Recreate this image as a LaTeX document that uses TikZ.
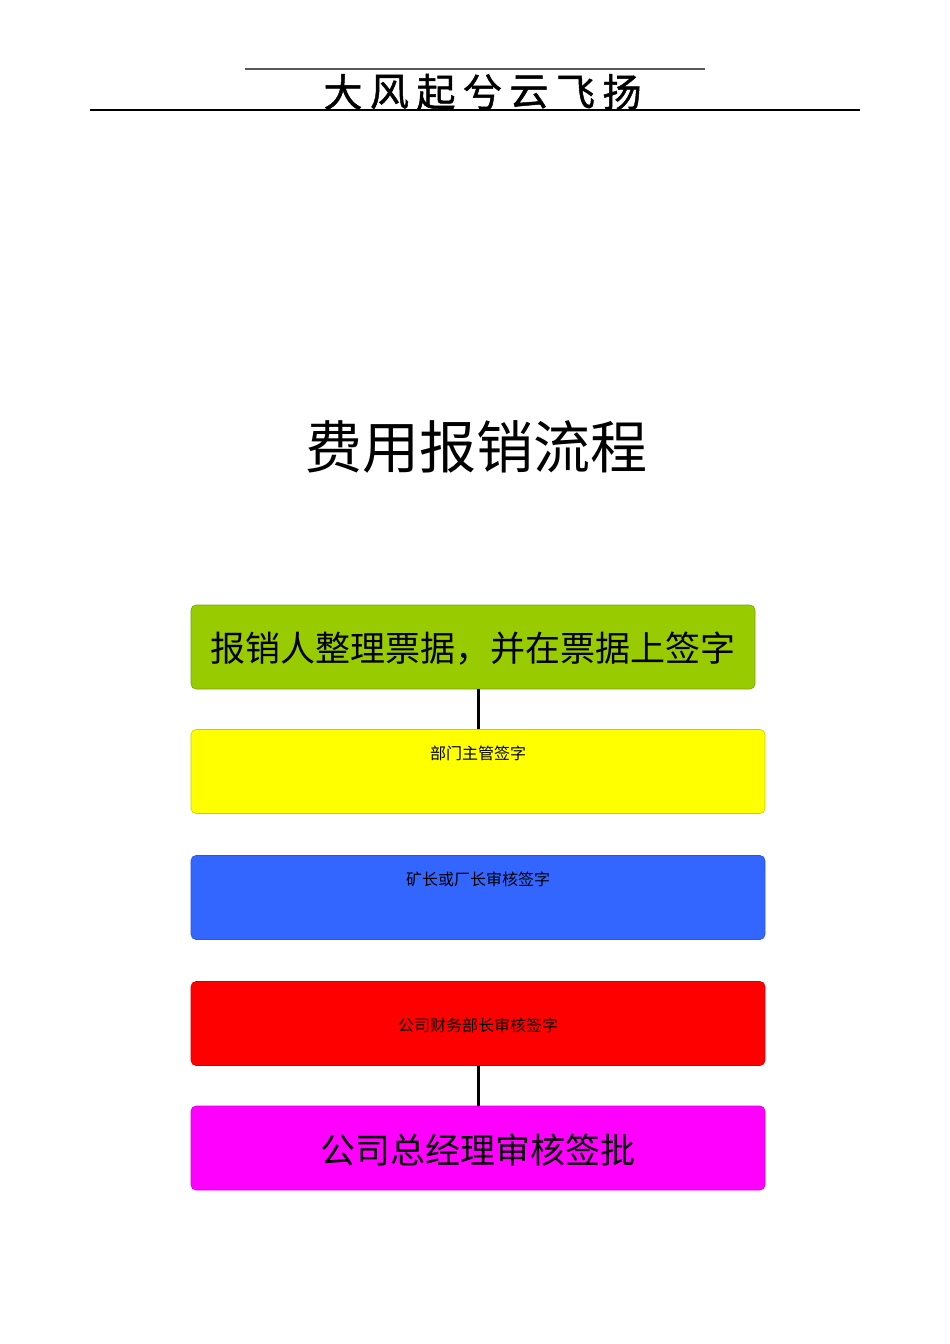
\documentclass[tikz,border=0pt]{standalone}
\usepackage{fontspec}
\newfontfamily\cjk{Noto Sans CJK SC}
\newfontfamily\cjkhead[FakeBold=1.2]{Noto Sans CJK SC}
\definecolor{stepgreen}{HTML}{99CC00}
\definecolor{stepyellow}{HTML}{FFFF00}
\definecolor{stepblue}{HTML}{3366FF}
\definecolor{stepred}{HTML}{FF0000}
\definecolor{stepmagenta}{HTML}{FF00FF}
\begin{document}
\begin{tikzpicture}[x=1pt,y=-1pt,font=\cjk,
    flowbox/.style={rectangle,rounded corners=5pt,inner sep=0pt,
        minimum width=574pt,minimum height=84pt,line width=0.6pt},
    bigtext/.style={font=\cjk\fontsize{35}{35}\selectfont},
    smalltext/.style={font=\cjk\fontsize{16}{16}\selectfont},
    link/.style={line width=3pt}]
    \useasboundingbox (0,0) rectangle (950,1344);
    %% Header
    \draw[black!65,line width=1.2pt] (245,69) -- (705,69);
    \foreach \c [count=\i] in {大,风,起,兮,云,飞,扬}
        \node[font=\cjkhead\fontsize{39}{39}\selectfont] (h\i) at (343+46.5*\i-46.5,92) {\c};
    \draw[line width=1.5pt] (90,110) -- (860,110);
    %% Title
    \node[font=\cjk\fontsize{57}{57}\selectfont] (title) at (476,447) {费用报销流程};
    %% Steps
    \node[flowbox,minimum width=564pt,fill=stepgreen,draw=stepgreen!80!black] (sign) at (473,647) {};
    \node[bigtext] (signlbl) at ([yshift=-2pt]sign.center) {报销人整理票据，并在票据上签字};
    \node[flowbox,fill=stepyellow,draw=stepyellow!80!black] (dept) at (478,771.5) {};
    \node[smalltext] (deptlbl) at ([yshift=-24pt]dept.north) {部门主管签字};
    \node[flowbox,fill=stepblue,draw=stepblue!85!black] (mine) at (478,897.5) {};
    \node[smalltext] (minelbl) at ([yshift=-24pt]mine.north) {矿长或厂长审核签字};
    \node[flowbox,fill=stepred,draw=stepred!85!black] (fin) at (478,1023.5) {};
    \node[smalltext] (finlbl) at ([yshift=-2pt]fin.center) {公司财务部长审核签字};
    \node[flowbox,fill=stepmagenta,draw=stepmagenta!85!black] (gm) at (478,1148) {};
    \node[bigtext] (gmlbl) at ([yshift=-2pt]gm.center) {公司总经理审核签批};
    %% Links
    \draw[link] (dept.north) -- (dept.north |- sign.south);
    \draw[link] (fin.south) -- (gm.north);
\end{tikzpicture}
\end{document}
